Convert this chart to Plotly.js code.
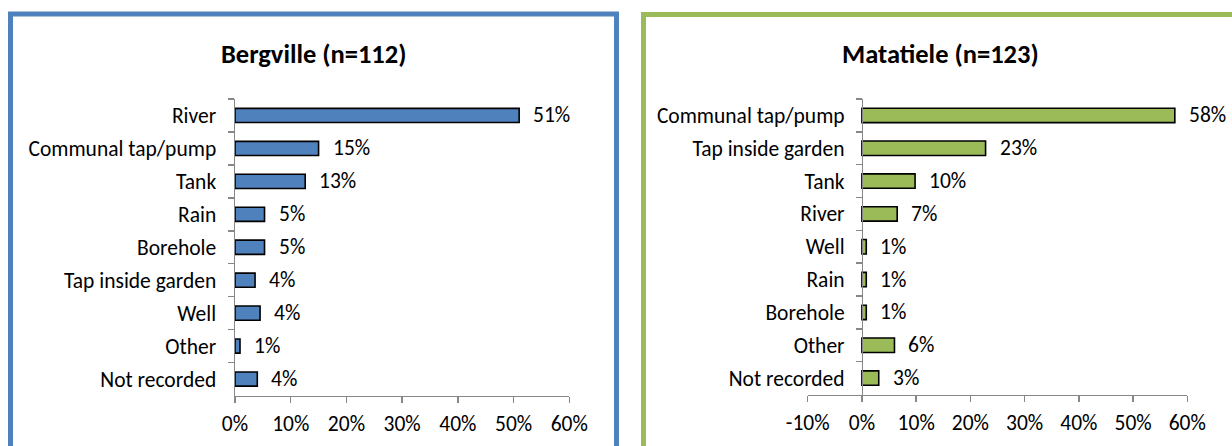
<!DOCTYPE html>
<html>
<head>
<meta charset="utf-8">
<script src="https://cdn.plot.ly/plotly-3.0.1.min.js"></script>
<style>
  html, body { margin: 0; padding: 0; background: #fff; }
  #chart { width: 1232px; height: 446px; }
</style>
</head>
<body>
<div id="chart"></div>
<script>
// ---- Data ----
const bergTitle = "Bergville (n=112)";
const bergCategories = ["River", "Communal tap/pump", "Tank", "Rain", "Borehole", "Tap inside garden", "Well", "Other", "Not recorded"];
const bergValues = [51.0, 15.0, 12.6, 5.3, 5.3, 3.6, 4.5, 0.9, 4.0];
const bergLabels = ["51%", "15%", "13%", "5%", "5%", "4%", "4%", "1%", "4%"];

const mataTitle = "Matatiele (n=123)";
const mataCategories = ["Communal tap/pump", "Tap inside garden", "Tank", "River", "Well", "Rain", "Borehole", "Other", "Not recorded"];
const mataValues = [57.7, 22.8, 9.8, 6.5, 0.8, 0.8, 0.8, 6.0, 3.1];
const mataLabels = ["58%", "23%", "10%", "7%", "1%", "1%", "1%", "6%", "3%"];

const bergTickVals = [0, 10, 20, 30, 40, 50, 60];
const bergTickText = ["0%", "10%", "20%", "30%", "40%", "50%", "60%"];
const mataTickVals = [-10, 0, 10, 20, 30, 40, 50, 60];
const mataTickText = ["-10%", "0%", "10%", "20%", "30%", "40%", "50%", "60%"];

// ---- Styles ----
const W = 1232, H = 446;
const FONT = "Carlito, Lato, sans-serif";
const LBL = 21.5;
const AXC = "#878787";
const BLUE = "#4F81BD", GREEN = "#9BBB59";

const px = v => v / W;
const py = v => 1 - v / H;

const xdom1 = [px(235), px(569.3)];
const ydom1 = [py(395.5), py(99)];
const xdom2 = [px(807.7), px(1187.3)];
const ydom2 = [py(394.5), py(99)];
const xr1 = [0, 60];
const xr2 = [-10, 60];
const y2pos = xdom2[0] + (0 - xr2[0]) / (xr2[1] - xr2[0]) * (xdom2[1] - xdom2[0]);

const traces = [
  {
    type: "bar", orientation: "h",
    x: bergValues, y: bergCategories,
    xaxis: "x", yaxis: "y",
    width: 0.43,
    marker: { color: BLUE, line: { color: "#000", width: 1.6 } },
    hoverinfo: "skip", showlegend: false
  },
  {
    type: "bar", orientation: "h",
    x: mataValues, y: mataCategories,
    xaxis: "x2", yaxis: "y2",
    width: 0.44,
    marker: { color: GREEN, line: { color: "#000", width: 1.6 } },
    hoverinfo: "skip", showlegend: false
  }
];

const annotations = [];
bergValues.forEach((v, i) => annotations.push({
  xref: "x", yref: "y", x: v, y: bergCategories[i], text: bergLabels[i],
  xanchor: "left", yanchor: "middle", xshift: 12, showarrow: false,
  font: { family: FONT, size: LBL, color: "#000" }
}));
mataValues.forEach((v, i) => annotations.push({
  xref: "x2", yref: "y2", x: v, y: mataCategories[i], text: mataLabels[i],
  xanchor: "left", yanchor: "middle", xshift: 12, showarrow: false,
  font: { family: FONT, size: LBL, color: "#000" }
}));
annotations.push({
  xref: "paper", yref: "paper", x: px(313.5), y: py(54), text: "<b>" + bergTitle + "</b>",
  xanchor: "center", yanchor: "middle", showarrow: false,
  font: { family: FONT, size: 26.5, color: "#000" }
});
annotations.push({
  xref: "paper", yref: "paper", x: px(940), y: py(54), text: "<b>" + mataTitle + "</b>",
  xanchor: "center", yanchor: "middle", showarrow: false,
  font: { family: FONT, size: 26.5, color: "#000" }
});

const xaxisBase = {
  showgrid: false, zeroline: false, showline: true, linecolor: AXC, linewidth: 1.5,
  ticks: "outside", ticklen: 6, tickwidth: 1.5, tickcolor: AXC,
  tickmode: "array", ticklabelstandoff: 2,
  tickfont: { family: FONT, size: LBL, color: "#000" }, fixedrange: true
};
const yaxisBase = {
  type: "category", showgrid: false, zeroline: false, showline: true, linecolor: AXC, linewidth: 1.5,
  ticks: "outside", ticklen: 6, tickwidth: 1.5, tickcolor: AXC, tickson: "boundaries",
  ticklabelstandoff: 13,
  tickfont: { family: FONT, size: LBL, color: "#000" }, fixedrange: true,
  range: [8.5, -0.5]
};

const layout = {
  width: W, height: H,
  margin: { l: 0, r: 0, t: 0, b: 0, pad: 0 },
  paper_bgcolor: "#fff", plot_bgcolor: "rgba(0,0,0,0)",
  showlegend: false,
  font: { family: FONT, color: "#000" },
  xaxis: Object.assign({}, xaxisBase, { domain: xdom1, range: xr1, anchor: "y", tickvals: bergTickVals, ticktext: bergTickText }),
  yaxis: Object.assign({}, yaxisBase, { domain: ydom1, anchor: "x", categoryorder: "array", categoryarray: bergCategories }),
  xaxis2: Object.assign({}, xaxisBase, { domain: xdom2, range: xr2, anchor: "y2", tickvals: mataTickVals, ticktext: mataTickText }),
  yaxis2: Object.assign({}, yaxisBase, { domain: ydom2, anchor: "free", position: y2pos, categoryorder: "array", categoryarray: mataCategories }),
  annotations: annotations,
  shapes: [
    { type: "rect", xref: "paper", yref: "paper", x0: px(10.5), x1: px(616.5), y0: -0.1, y1: py(14),
      line: { color: BLUE, width: 5 }, fillcolor: "rgba(0,0,0,0)", layer: "below" },
    { type: "rect", xref: "paper", yref: "paper", x0: px(643.5), x1: 1.05, y0: -0.1, y1: py(14.5),
      line: { color: GREEN, width: 5 }, fillcolor: "rgba(0,0,0,0)", layer: "below" }
  ]
};

Plotly.newPlot("chart", traces, layout, { displayModeBar: false, staticPlot: true });
</script>
</body>
</html>
